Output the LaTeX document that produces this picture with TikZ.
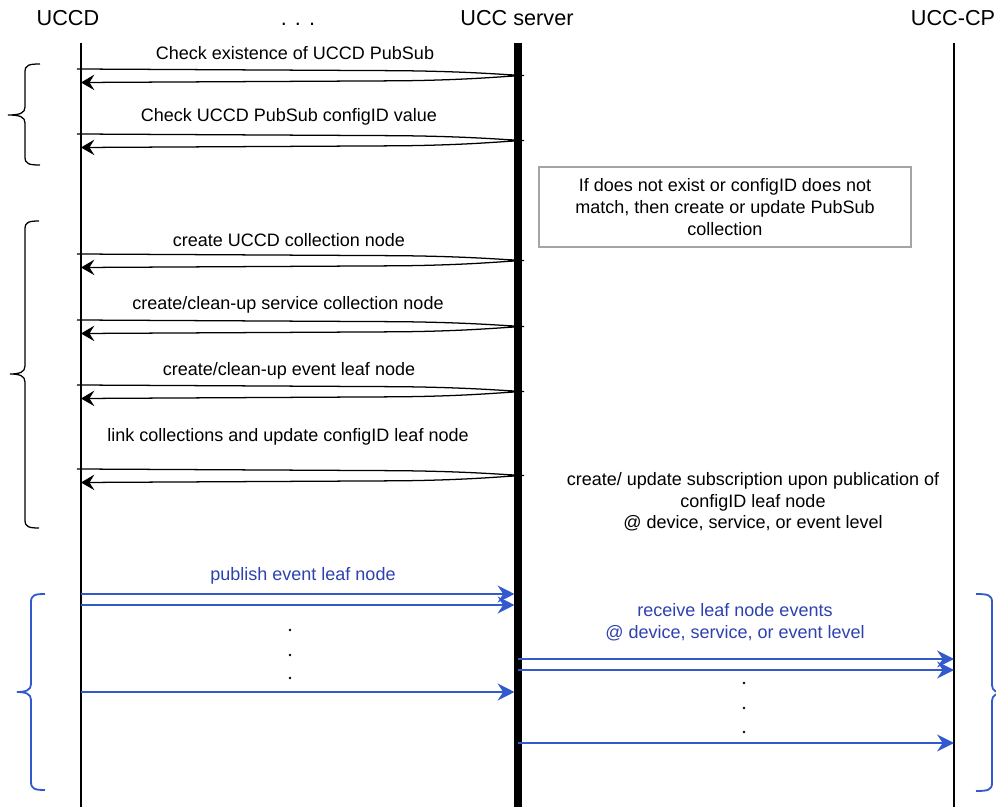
\documentclass[tikz,border=0pt]{standalone}
\usepackage{fontspec}
\setmainfont{Liberation Sans}
\usepackage{tikz}
\usetikzlibrary{arrows.meta}
\definecolor{ucblue}{RGB}{50,90,205}
\definecolor{uctext}{RGB}{45,65,175}
\definecolor{boxgray}{RGB}{165,165,165}

\begin{document}
\begin{tikzpicture}[x=0.025cm,y=-0.025cm,
        hdr/.style={font=\fontsize{15.4}{18}\selectfont,anchor=base},
        lbl/.style={font=\fontsize{12.8}{15.4}\selectfont,align=center},
        msg/.style={line width=0.9pt,-{Stealth[length=9.5pt,width=11pt,inset=3.5pt]}},
        pub/.style={ucblue,line width=1.3pt,-{Stealth[length=12pt,width=12pt,inset=4pt]}},
        brc/.style={line width=0.9pt}]
        \useasboundingbox (0,0) rectangle (996,807);

        \node[hdr] (hUCCD) at (68,26) {UCCD};
        \node[hdr] (hDots) at (298,26) {. . .};
        \node[hdr] (hSrv) at (517,26) {UCC server};
        \node[hdr] (hCP) at (953,26) {UCC-CP};

        \coordinate (uccd) at (81,43);
        \coordinate (srv) at (518,43);
        \coordinate (cp) at (954,43);
        \draw[line width=1.4pt] (uccd) -- (uccd |- 0,807);
        \draw[line width=5.7pt] (srv) -- (srv |- 0,807);
        \draw[line width=1.4pt] (cp) -- (cp |- 0,807);

        \foreach \y in {69,134,254,320,385,469}
            \draw[msg] (77,\y) -- (400,\y+1.7) .. controls (470,\y+2.5) and (500,\y+5.5) .. (524,\y+6.5)
                .. controls (500,\y+7.5) and (470,\y+11) .. (400,\y+11.8) -- (uccd |- 0,\y+13.5);

        \node[lbl] (chkExist) at (295,53) {Check existence of UCCD PubSub};
        \node[lbl] (chkCfg) at (289,117) {Check UCCD PubSub configID value};
        \node[lbl] (mkColl) at (289,240) {create UCCD collection node};
        \node[lbl] (mkSvc) at (288,305) {create/clean-up service collection node};
        \node[lbl] (mkEvt) at (289,371) {create/clean-up event leaf node};
        \node[lbl] (linkColl) at (288,437) {link collections and update configID leaf node};

        \node[lbl,draw=boxgray,line width=0.8pt,minimum width=9.3cm,minimum height=2cm] (noteBox) at (725,207)
            {If does not exist or configID does not\\match, then create or update PubSub\\collection};
        \node[lbl] (subNote) at (753,502)
            {create/ update subscription upon publication of\\configID leaf node\\@ device, service, or event level};

        \node[lbl,text=uctext] (pubLbl) at (303,576) {publish event leaf node};
        \draw[pub,shorten >=2.5pt] (uccd |- 0,594) -- (srv |- 0,594);
        \draw[pub,shorten >=2.5pt] (uccd |- 0,605) -- (srv |- 0,605);
        \draw[pub,shorten >=2.5pt] (uccd |- 0,692) -- (srv |- 0,692);
        \foreach \y in {630,655,678}
            \fill (290,\y) circle (1pt);

        \node[lbl,text=uctext] (rcvLbl) at (735,622) {receive leaf node events\\@ device, service, or event level};
        \draw[pub] (srv |- 0,659) -- (cp |- 0,659);
        \draw[pub] (srv |- 0,670) -- (cp |- 0,670);
        \draw[pub] (srv |- 0,743) -- (cp |- 0,743);
        \foreach \y in {683,708,732}
            \fill (744,\y) circle (1pt);

        % braces
        \draw[brc] (40,64) .. controls (29,64) and (25,65) .. (25,72) -- (25,107)
            .. controls (25,113) and (20,115) .. (8,115) .. controls (20,115) and (25,117) .. (25,123)
            -- (25,157) .. controls (25,164) and (29,165) .. (40,165);
        \draw[brc] (39,221) .. controls (29,221) and (25,222) .. (25,229) -- (25,366)
            .. controls (25,372) and (20,374) .. (10,374) .. controls (20,374) and (25,376) .. (25,382)
            -- (25,520) .. controls (25,527) and (29,528) .. (39,528);
        \draw[brc,ucblue,line width=1.3pt] (45,594) .. controls (35,594) and (31,595) .. (31,602) -- (31,684)
            .. controls (31,690) and (26,692) .. (17,692) .. controls (26,692) and (31,694) .. (31,700)
            -- (31,782) .. controls (31,789) and (35,790) .. (45,790);
        \draw[brc,ucblue,line width=1.3pt] (976,594) .. controls (988,594) and (992,595) .. (992,602) -- (992,685)
            .. controls (992,691) and (997,693) .. (1004,693) .. controls (997,693) and (992,695) .. (992,701)
            -- (992,783) .. controls (992,790) and (988,791) .. (976,791);
    \end{tikzpicture}
\end{document}
